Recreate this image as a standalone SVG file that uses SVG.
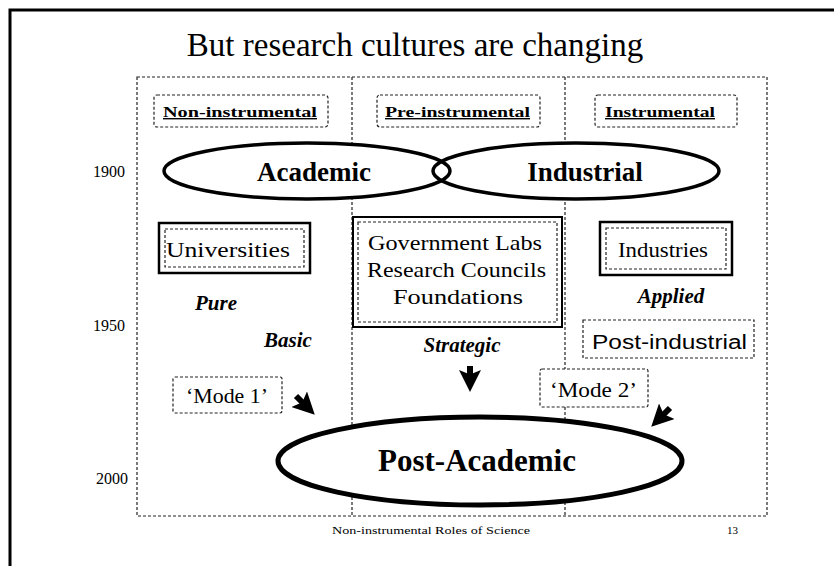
<svg xmlns="http://www.w3.org/2000/svg" width="834" height="566" viewBox="0 0 834 566">
<defs>
<style>
.dot{fill:#fff;stroke:#222;stroke-width:1.2;stroke-dasharray:3,2}
.dotn{fill:none;stroke:#222;stroke-width:1.2;stroke-dasharray:3,2}
.solid{fill:#fff;stroke:#000}
.ell{fill:none;stroke:#000;stroke-width:3.5}
.serif{font-family:"Liberation Serif","Times New Roman",serif;fill:#000}
.sans{font-family:"Liberation Sans",Arial,sans-serif;fill:#000}
.lab{font-size:14px;font-weight:bold;text-decoration:underline}
.bi{font-weight:bold;font-style:italic;font-size:21px}
.box{font-size:21px}
.yr{font-size:16px}
.arr{stroke:#000;stroke-width:6;fill:none}
</style>
<marker id="ah" viewBox="0 0 10 10" refX="5" refY="5" markerWidth="22" markerHeight="22" markerUnits="userSpaceOnUse" orient="auto">
<path d="M0,0 L10,5 L0,10 L2,5 Z" fill="#000"/>
</marker>
</defs>
<rect x="0" y="0" width="834" height="566" fill="#fff"/>
<g id="page-border">
<path d="M10,567 L10,10 L835,10" fill="none" stroke="#000" stroke-width="3"/>
</g>
<g id="title">
<text class="serif" x="415" y="56" font-size="33" text-anchor="middle">But research cultures are changing</text>
</g>
<g id="frame">
<rect class="dotn" x="137" y="77" width="630" height="439"/>
<line class="dotn" x1="352" y1="77" x2="352" y2="516"/>
<line class="dotn" x1="565" y1="77" x2="565" y2="516"/>
</g>
<g id="ellipse-fills">
<ellipse cx="307" cy="171" rx="143" ry="28" fill="#fff"/>
<ellipse cx="576" cy="171" rx="143" ry="28" fill="#fff"/>
</g>
<g id="years">
<text class="serif yr" x="125" y="177" text-anchor="end">1900</text>
<text class="serif yr" x="125" y="331" text-anchor="end">1950</text>
<text class="serif yr" x="128" y="484" text-anchor="end">2000</text>
</g>
<g id="non-instrumental">
<rect class="dot" x="154" y="95" width="174" height="32" rx="3"/>
<text class="serif lab" x="163" y="117" textLength="154" lengthAdjust="spacingAndGlyphs">Non-instrumental</text>
</g>
<g id="pre-instrumental">
<rect class="dot" x="377" y="95" width="163" height="32" rx="3"/>
<text class="serif lab" x="385" y="117" textLength="145" lengthAdjust="spacingAndGlyphs">Pre-instrumental</text>
</g>
<g id="instrumental">
<rect class="dot" x="595" y="95" width="142" height="32" rx="3"/>
<text class="serif lab" x="605" y="117" textLength="110" lengthAdjust="spacingAndGlyphs">Instrumental</text>
</g>
<g id="academic">
<ellipse class="ell" cx="307" cy="171" rx="143" ry="28"/>
<text class="serif" x="314" y="181" font-size="27" font-weight="bold" text-anchor="middle">Academic</text>
</g>
<g id="industrial">
<ellipse class="ell" cx="576" cy="171" rx="143" ry="28"/>
<text class="serif" x="585" y="181" font-size="27" font-weight="bold" text-anchor="middle">Industrial</text>
</g>
<g id="universities">
<rect class="solid" x="159" y="223" width="151" height="50" stroke-width="2.5"/>
<rect class="dot" x="165" y="229" width="139" height="38"/>
<text class="serif box" x="166" y="257" textLength="124" lengthAdjust="spacingAndGlyphs">Universities</text>
</g>
<g id="government">
<rect class="solid" x="353" y="217" width="209" height="110" stroke-width="2"/>
<rect class="dot" x="358" y="222" width="199" height="100"/>
<text class="serif box" x="368" y="250" textLength="174" lengthAdjust="spacingAndGlyphs">Government Labs</text>
<text class="serif box" x="367" y="277" textLength="179" lengthAdjust="spacingAndGlyphs">Research Councils</text>
<text class="serif box" x="393" y="304" textLength="130" lengthAdjust="spacingAndGlyphs">Foundations</text>
</g>
<g id="industries">
<rect class="solid" x="600" y="222" width="132" height="53" stroke-width="2.5"/>
<rect class="dot" x="606" y="228" width="120" height="41"/>
<text class="serif box" x="618" y="257" textLength="90" lengthAdjust="spacingAndGlyphs">Industries</text>
</g>
<g id="pure"><text class="serif bi" x="216" y="310" text-anchor="middle">Pure</text></g>
<g id="basic"><text class="serif bi" x="288" y="347" text-anchor="middle">Basic</text></g>
<g id="strategic"><text class="serif bi" x="462" y="352" text-anchor="middle">Strategic</text></g>
<g id="applied"><text class="serif bi" x="671" y="303" text-anchor="middle">Applied</text></g>
<g id="post-industrial">
<rect class="dot" x="583" y="320" width="171" height="38"/>
<text class="sans" x="592" y="349" font-size="20" textLength="155" lengthAdjust="spacingAndGlyphs">Post-industrial</text>
</g>
<g id="mode1">
<rect class="dot" x="173" y="377" width="109" height="36" rx="2"/>
<text class="serif box" x="186" y="403" textLength="82" lengthAdjust="spacingAndGlyphs">‘Mode 1’</text>
</g>
<g id="mode2">
<rect class="dot" x="540" y="369" width="108" height="38" rx="2"/>
<text class="serif box" x="550" y="397" textLength="87" lengthAdjust="spacingAndGlyphs">‘Mode 2’</text>
</g>
<g id="connectors">
<line class="arr" x1="470" y1="366" x2="470" y2="381" marker-end="url(#ah)"/>
<line class="arr" x1="296" y1="396" x2="307" y2="407" marker-end="url(#ah)"/>
<line class="arr" x1="670" y1="408" x2="659" y2="419" marker-end="url(#ah)"/>
</g>
<g id="post-academic">
<ellipse cx="480" cy="461" rx="202" ry="44" style="fill:#fff;stroke:#000;stroke-width:5"/>
<text class="serif" x="477" y="471" font-size="31" font-weight="bold" text-anchor="middle">Post-Academic</text>
</g>
<g id="footer">
<text class="serif" x="332" y="534" font-size="11" textLength="198" lengthAdjust="spacingAndGlyphs">Non-instrumental Roles of Science</text>
<text class="serif" x="727" y="534" font-size="11">13</text>
</g>
</svg>
